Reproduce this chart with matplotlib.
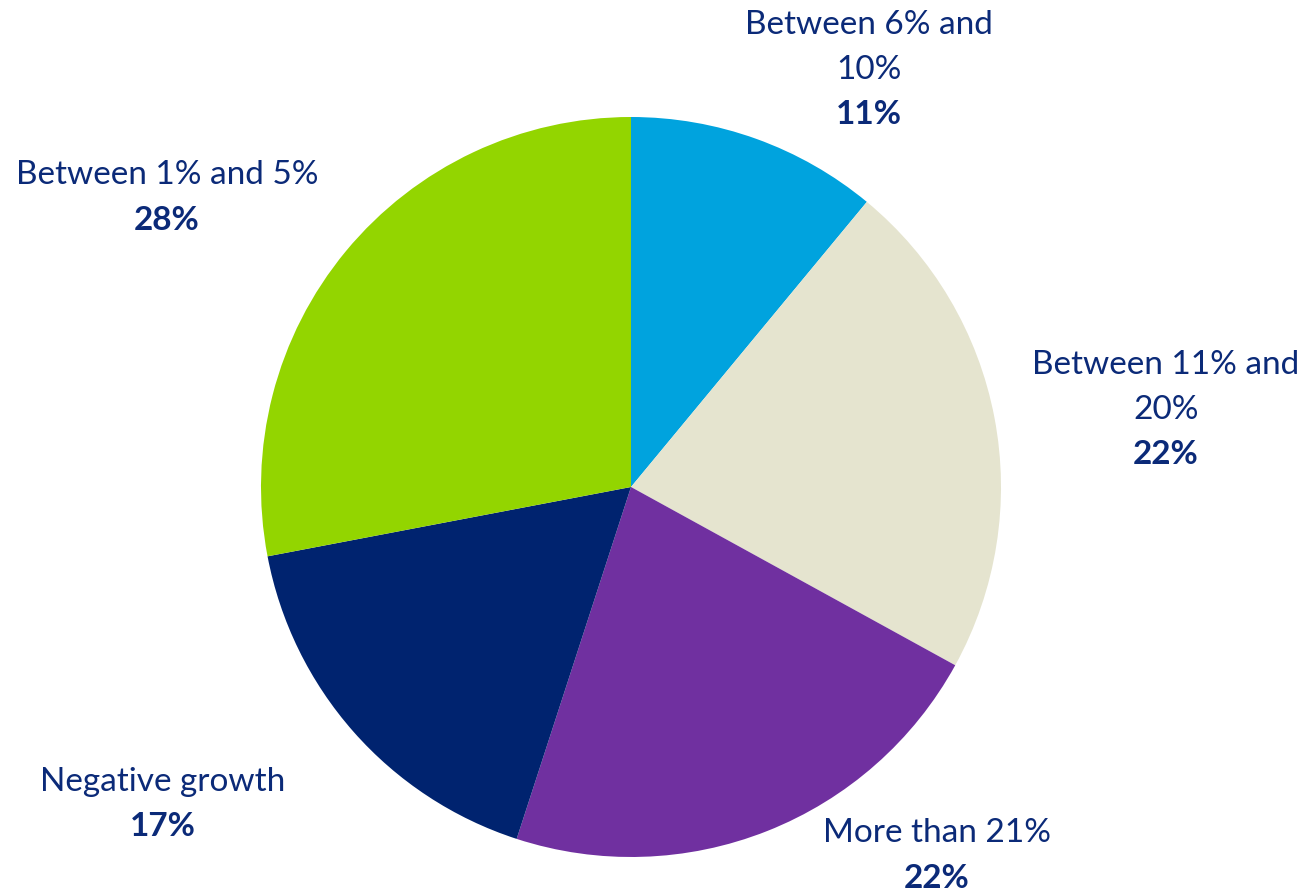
import matplotlib
matplotlib.use("Agg")
import matplotlib.pyplot as plt

# Growth-rate distribution, clockwise from 12 o'clock
categories = ["Between 6% and\n10%", "Between 11% and\n20%", "More than 21%",
              "Negative growth", "Between 1% and 5%"]
shares = [11, 22, 22, 17, 28]
colors = ["#00A3DE", "#E5E4CF", "#7030A0", "#00236F", "#93D500"]
text_color = "#0B2A78"

W, H = 1306, 893
fig = plt.figure(figsize=(W / 100, H / 100), dpi=100)
ax = fig.add_axes([0, 0, 1, 1])

cx, cy, r = 631, H - 487, 370
ax.pie(shares, colors=colors, startangle=90, counterclock=False,
       center=(cx, cy), radius=r, frame=True,
       wedgeprops=dict(linewidth=0))
ax.set_xlim(0, W)
ax.set_ylim(0, H)
ax.set_aspect("equal")
ax.axis("off")

# label anchor (x centre, y of first line) in pixel space from top
label_pos = [(869, 25), (1166, 365), (937, 833), (163, 782), (167, 175)]
line_gap = 45
fs = 24
font = "Lato"

for name, val, (lx, ly) in zip(categories, shares, label_pos):
    lines = name.split("\n")
    for i, ln in enumerate(lines):
        ax.text(lx, H - (ly + i * line_gap), ln, ha="center", va="center",
                fontsize=fs, family=font, color=text_color)
    ax.text(lx, H - (ly + len(lines) * line_gap), f"{val}%", ha="center",
            va="center", fontsize=fs, family=font, fontweight="bold",
            color=text_color)

fig.savefig("out.png", dpi=100, facecolor="white")
